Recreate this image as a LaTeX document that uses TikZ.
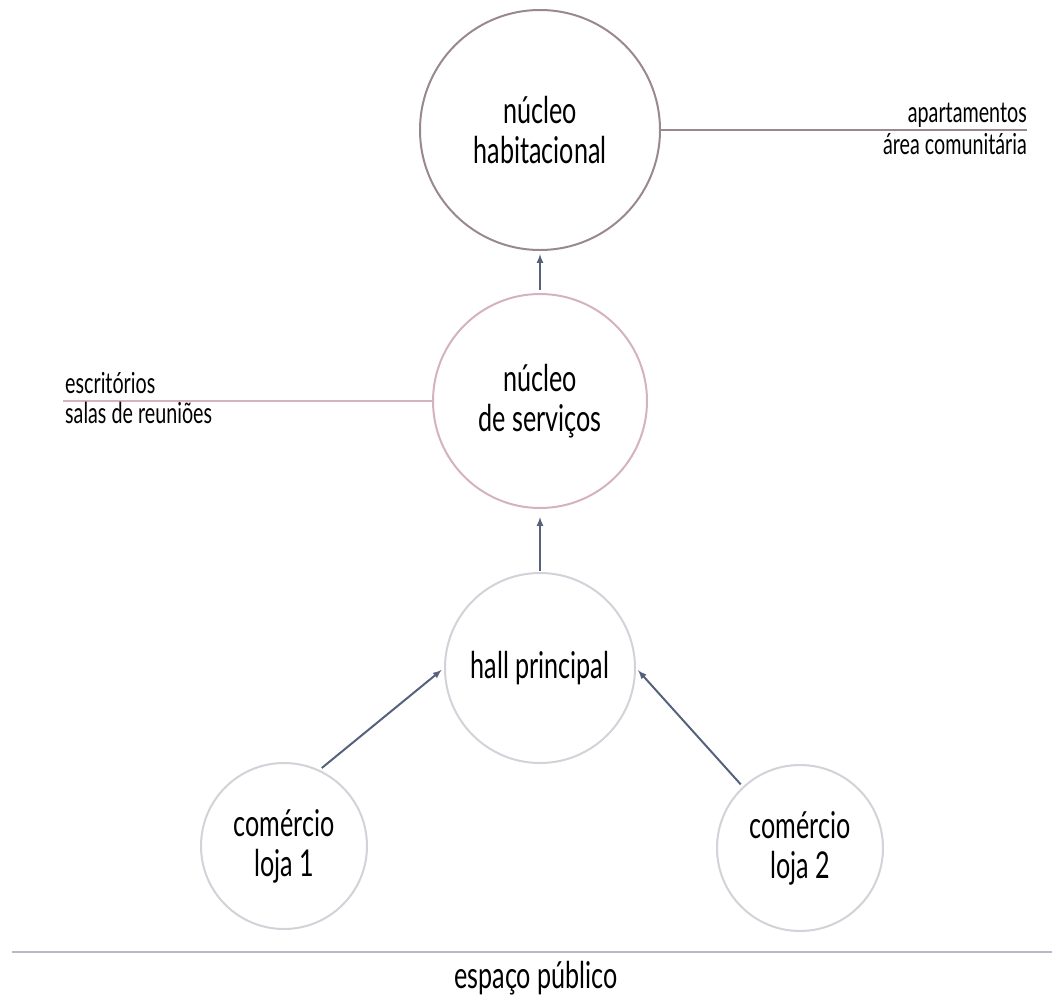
\documentclass[tikz,border=0pt]{standalone}
\usepackage{fontspec}
\setmainfont{Lato}[FakeStretch=0.68]
\usepackage{tikz}
\usetikzlibrary{positioning}

\definecolor{habcol}{HTML}{9A8890}
\definecolor{servcol}{HTML}{D4B2C2}
\definecolor{hallcol}{HTML}{D2D2D8}
\definecolor{arrcol}{HTML}{56627C}
\definecolor{groundcol}{HTML}{B8B8C8}

\tikzset{
	hub/.style={circle, draw, line width=2pt, align=center, text=black,
		font=\fontsize{37}{40}\selectfont, inner sep=0pt},
	side/.style={align=left, font=\fontsize{29}{31}\selectfont, inner sep=0pt},
	flow/.style={-latex, arrcol, line width=2pt, shorten >=3pt, shorten <=3pt}
}

\begin{document}
\begin{tikzpicture}[x=1pt, y=-1pt]
		\useasboundingbox (0,0) rectangle (1052,999);

		% circles
		\node[hub, draw=habcol, minimum size=240pt] (hab) at (540,130) {núcleo\\habitacional};
		\node[hub, draw=servcol, minimum size=214pt] (serv) at (540,401) {núcleo\\de serviços};
		\node[hub, draw=hallcol, minimum size=190pt] (hall) at (540,668) {hall principal};
		\node[hub, draw=hallcol, minimum size=166pt] (loja1) at (284,846) {comércio\\loja 1};
		\node[hub, draw=hallcol, minimum size=166pt] (loja2) at (800,848) {comércio\\loja 2};

		% side lines
		\draw[habcol, line width=2pt] (hab.east) -- (1027,130) coordinate (habend);
		\node[side, anchor=base east] (apto) at ([yshift=8pt]habend) {apartamentos};
		\node[side, anchor=base east] (comum) at ([yshift=-24pt]habend) {área comunitária};

		\draw[servcol, line width=2pt] (serv.west) -- (63,401) coordinate (servend);
		\node[side, anchor=base west] (escr) at ([xshift=2pt,yshift=8pt]servend) {escritórios};
		\node[side, anchor=base west] (salas) at ([xshift=2pt,yshift=-22pt]servend) {salas de reuniões};

		% ground
		\draw[groundcol, line width=2pt] (12,952) coordinate (gl) -- (1052,952) coordinate (gr);
		\node[side, font=\fontsize{37}{40}\selectfont, anchor=base] (rua) at (536,988) {espaço público};

		% arrows
		\draw[flow] (serv.north) -- (hab.south);
		\draw[flow, shorten <=1pt, shorten >=8pt] (hall.north) -- (serv.south);
		\draw[flow] (loja1.65) -- (hall.west);
		\draw[flow] (loja2.133) -- (hall.east);

	\end{tikzpicture}
\end{document}
